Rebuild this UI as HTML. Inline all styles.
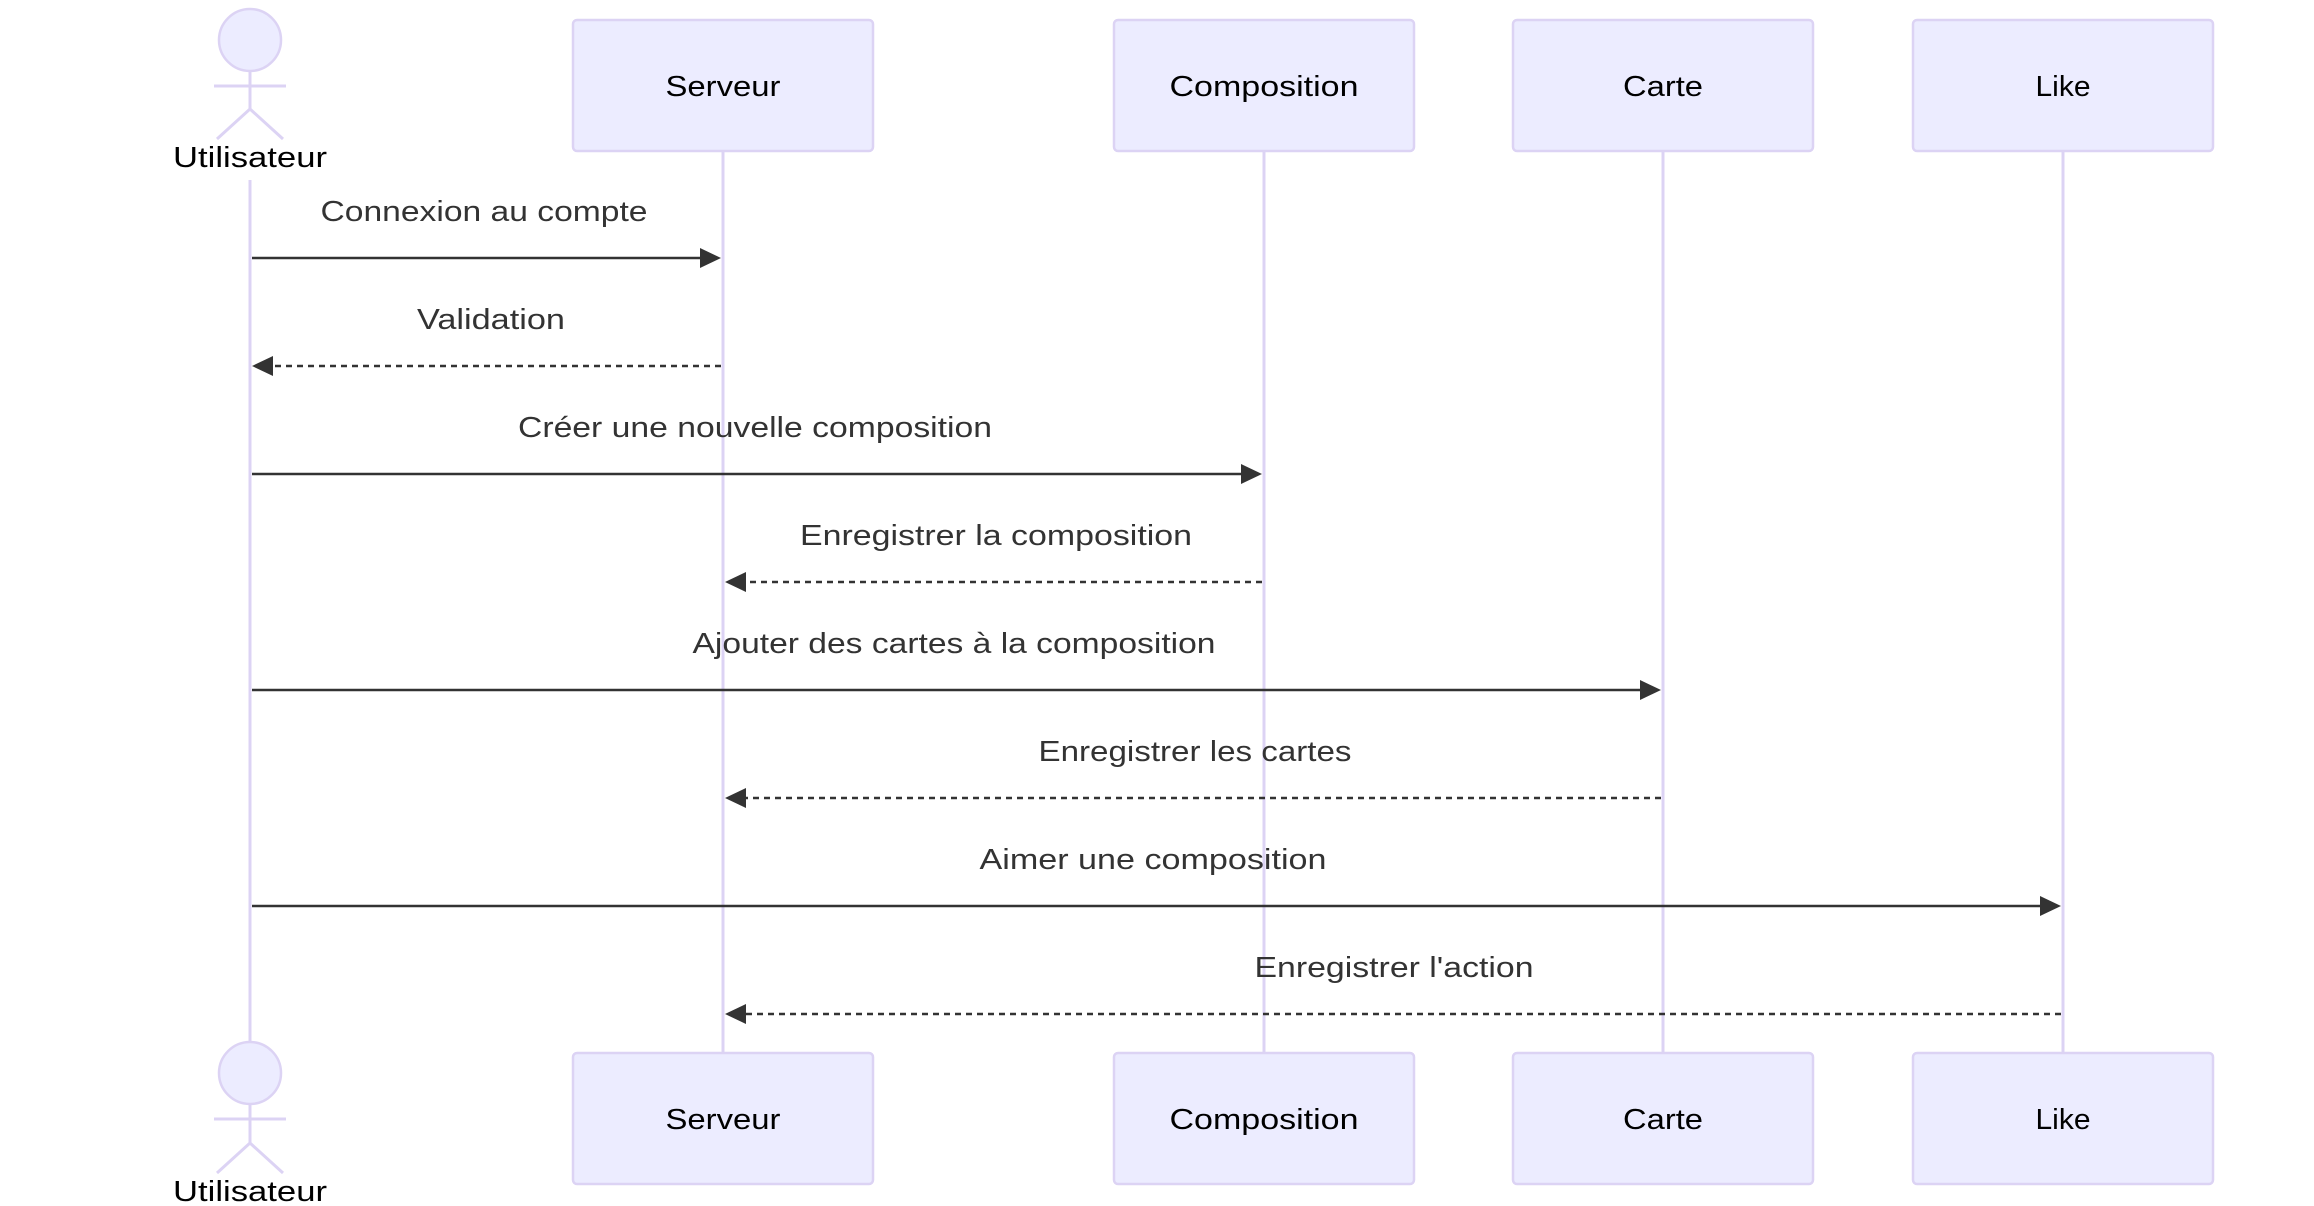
<!DOCTYPE html>
<html><head><meta charset="utf-8"><style>
html,body{margin:0;padding:0;background:#fff;}
svg{display:block}
text{font-family:"Liberation Sans",sans-serif;}
</style></head><body>
<svg width="2314" height="1206" viewBox="0 0 2314 1206" xmlns="http://www.w3.org/2000/svg">
<g stroke="#dcd3f4" stroke-width="3" fill="none">
<line x1="250" y1="180" x2="250" y2="1043"/>
<line x1="723" y1="150" x2="723" y2="1053"/>
<line x1="1264" y1="150" x2="1264" y2="1053"/>
<line x1="1663" y1="150" x2="1663" y2="1053"/>
<line x1="2063" y1="150" x2="2063" y2="1053"/>
</g>
<g fill="#ececff" stroke="#dcd3f4" stroke-width="2.5">
<rect x="573" y="20" width="300" height="131" rx="4"/>
<rect x="1114" y="20" width="300" height="131" rx="4"/>
<rect x="1513" y="20" width="300" height="131" rx="4"/>
<rect x="1913" y="20" width="300" height="131" rx="4"/>
<rect x="573" y="1053" width="300" height="131" rx="4"/>
<rect x="1114" y="1053" width="300" height="131" rx="4"/>
<rect x="1513" y="1053" width="300" height="131" rx="4"/>
<rect x="1913" y="1053" width="300" height="131" rx="4"/>
<circle cx="250" cy="40" r="31"/>
<circle cx="250" cy="1073" r="31"/>
</g>
<g stroke="#dcd3f4" stroke-width="3" fill="none">
<path d="M250 71V109M214 86H286M217 139L250 109L283 139"/>
<path d="M250 1104V1143M214 1119H286M217 1173L250 1143L283 1173"/>
</g>
<g font-size="29" fill="#000" text-anchor="middle">
<text x="250" y="167" textLength="154" lengthAdjust="spacingAndGlyphs">Utilisateur</text>
<text x="250" y="1201" textLength="154" lengthAdjust="spacingAndGlyphs">Utilisateur</text>
<text x="723" y="96" textLength="115" lengthAdjust="spacingAndGlyphs">Serveur</text>
<text x="1264" y="96" textLength="189" lengthAdjust="spacingAndGlyphs">Composition</text>
<text x="1663" y="96" textLength="80" lengthAdjust="spacingAndGlyphs">Carte</text>
<text x="2063" y="96" textLength="55" lengthAdjust="spacingAndGlyphs">Like</text>
<text x="723" y="1129" textLength="115" lengthAdjust="spacingAndGlyphs">Serveur</text>
<text x="1264" y="1129" textLength="189" lengthAdjust="spacingAndGlyphs">Composition</text>
<text x="1663" y="1129" textLength="80" lengthAdjust="spacingAndGlyphs">Carte</text>
<text x="2063" y="1129" textLength="55" lengthAdjust="spacingAndGlyphs">Like</text>
</g>
<g font-size="29" fill="#333" text-anchor="middle">
<text x="484" y="221" textLength="327" lengthAdjust="spacingAndGlyphs">Connexion au compte</text>
<text x="491" y="329" textLength="148" lengthAdjust="spacingAndGlyphs">Validation</text>
<text x="755" y="437" textLength="474" lengthAdjust="spacingAndGlyphs">Créer une nouvelle composition</text>
<text x="996" y="545" textLength="392" lengthAdjust="spacingAndGlyphs">Enregistrer la composition</text>
<text x="954" y="653" textLength="523" lengthAdjust="spacingAndGlyphs">Ajouter des cartes à la composition</text>
<text x="1195" y="761" textLength="313" lengthAdjust="spacingAndGlyphs">Enregistrer les cartes</text>
<text x="1153" y="869" textLength="347" lengthAdjust="spacingAndGlyphs">Aimer une composition</text>
<text x="1394" y="977" textLength="279" lengthAdjust="spacingAndGlyphs">Enregistrer l'action</text>
</g>
<g stroke="#333" stroke-width="2.5" fill="none">
<line x1="252" y1="258" x2="704" y2="258"/>
<line x1="721" y1="366" x2="270" y2="366" stroke-dasharray="6,5"/>
<line x1="252" y1="474" x2="1245" y2="474"/>
<line x1="1262" y1="582" x2="743" y2="582" stroke-dasharray="6,5"/>
<line x1="252" y1="690" x2="1644" y2="690"/>
<line x1="1661" y1="798" x2="743" y2="798" stroke-dasharray="6,5"/>
<line x1="252" y1="906" x2="2044" y2="906"/>
<line x1="2061" y1="1014" x2="743" y2="1014" stroke-dasharray="6,5"/>
</g>
<g fill="#333">
<path d="M721 258L700 248V268Z"/>
<path d="M252 366L273 356V376Z"/>
<path d="M1262 474L1241 464V484Z"/>
<path d="M725 582L746 572V592Z"/>
<path d="M1661 690L1640 680V700Z"/>
<path d="M725 798L746 788V808Z"/>
<path d="M2061 906L2040 896V916Z"/>
<path d="M725 1014L746 1004V1024Z"/>
</g>
</svg>
</body></html>
